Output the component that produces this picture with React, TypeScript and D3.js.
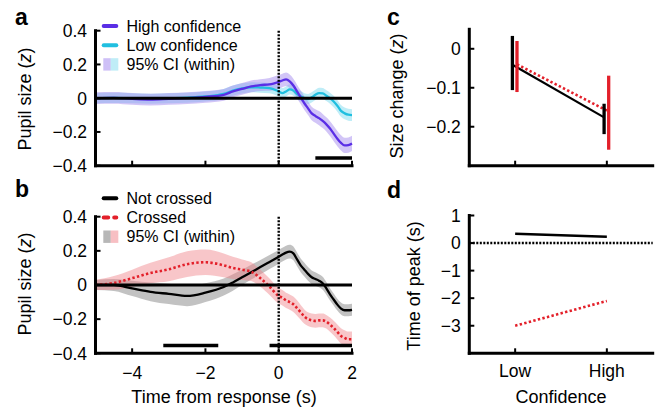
import { useEffect, useRef } from "react";
import * as d3 from "d3";

// time axis shared by panels a and b (s from response)
const times = [-5, -4.5, -4, -3.5, -3, -2.5, -2, -1.5, -1.25, -1, -0.75, -0.5, -0.25, 0, 0.1, 0.2, 0.3, 0.4, 0.5, 0.6, 0.7, 0.8, 0.9, 1, 1.1, 1.2, 1.3, 1.4, 1.5, 1.6, 1.7, 1.8, 1.9, 2];

// panel a
const highConf = [0, 0.002, -0.004, -0.008, -0.004, 0, 0.008, 0.02, 0.04, 0.055, 0.07, 0.078, 0.082, 0.097, 0.105, 0.112, 0.1, 0.075, 0.04, 0.005, -0.03, -0.06, -0.09, -0.105, -0.118, -0.135, -0.155, -0.18, -0.21, -0.24, -0.265, -0.28, -0.278, -0.268];
const lowConf = [0, 0.002, 0, -0.003, 0, 0.003, 0.01, 0.025, 0.045, 0.058, 0.065, 0.063, 0.06, 0.04, 0.03, 0.04, 0.052, 0.045, 0.025, 0.012, 0, -0.005, 0.005, 0.02, 0.03, 0.028, 0.015, 0, -0.02, -0.045, -0.075, -0.09, -0.098, -0.1];
const ciHigh = [0.035, 0.035, 0.035, 0.035, 0.035, 0.035, 0.035, 0.035, 0.035, 0.035, 0.035, 0.035, 0.038, 0.04, 0.04, 0.04, 0.04, 0.04, 0.04, 0.04, 0.04, 0.04, 0.04, 0.04, 0.042, 0.042, 0.042, 0.044, 0.045, 0.045, 0.045, 0.045, 0.045, 0.045];
const ciLow = [0.03, 0.03, 0.03, 0.03, 0.03, 0.03, 0.03, 0.03, 0.03, 0.03, 0.03, 0.03, 0.03, 0.03, 0.03, 0.03, 0.03, 0.03, 0.03, 0.03, 0.03, 0.03, 0.03, 0.03, 0.032, 0.032, 0.032, 0.033, 0.034, 0.035, 0.035, 0.035, 0.035, 0.035];
const sigA = [[1.0, 2.0]];

// panel b
const notCrossed = [0, 0, -0.02, -0.04, -0.052, -0.064, -0.045, -0.012, 0.015, 0.045, 0.075, 0.105, 0.135, 0.165, 0.178, 0.19, 0.195, 0.185, 0.15, 0.115, 0.09, 0.065, 0.045, 0.035, 0.025, 0.01, -0.02, -0.055, -0.085, -0.115, -0.138, -0.148, -0.148, -0.145];
const crossed = [0, 0.012, 0.04, 0.07, 0.092, 0.122, 0.133, 0.115, 0.1, 0.09, 0.078, 0.04, -0.01, -0.064, -0.075, -0.09, -0.1, -0.113, -0.135, -0.16, -0.185, -0.2, -0.207, -0.21, -0.207, -0.207, -0.215, -0.232, -0.252, -0.275, -0.298, -0.31, -0.318, -0.318];
const ciNot = [0.03, 0.035, 0.045, 0.055, 0.06, 0.06, 0.055, 0.05, 0.048, 0.045, 0.043, 0.042, 0.041, 0.04, 0.04, 0.04, 0.04, 0.04, 0.04, 0.04, 0.04, 0.04, 0.04, 0.04, 0.038, 0.038, 0.037, 0.036, 0.035, 0.035, 0.035, 0.035, 0.035, 0.035];
const ciCrossed = [0.03, 0.04, 0.05, 0.06, 0.07, 0.075, 0.075, 0.07, 0.065, 0.06, 0.055, 0.05, 0.048, 0.046, 0.045, 0.045, 0.045, 0.045, 0.045, 0.043, 0.042, 0.04, 0.04, 0.04, 0.04, 0.04, 0.04, 0.042, 0.043, 0.044, 0.045, 0.045, 0.045, 0.045];
const sigB = [[-3.15, -1.65], [-0.25, 2.0]];

// panels c and d
const confidence = ["Low", "High"];
const sizeNotMean = [-0.041, -0.176];
const sizeNotLo = [-0.106, -0.219];
const sizeNotHi = [0.033, -0.141];
const sizeCrossMean = [-0.04, -0.161];
const sizeCrossLo = [-0.111, -0.259];
const sizeCrossHi = [0.02, -0.069];
const peakNot = [0.34, 0.23];
const peakCross = [-3.0, -2.1];

const FONT = "'Liberation Sans', Arial, Helvetica, sans-serif";
const RED = "#e3202a";
const PURPLE = "#5a2ee6";
const CYAN = "#20bfe0";
const DOTS = "2,1.5";

export default function App() {
  const svgRef = useRef<SVGSVGElement>(null);

  useEffect(() => {
    if (!svgRef.current) return;
    const svg = d3.select(svgRef.current);
    svg.selectAll("*").remove();
    svg.attr("font-family", FONT);

    const xT = d3.scaleLinear().domain([-5, 2]).range([95.5, 352]);
    const yA = d3.scaleLinear().domain([-0.4, 0.4]).range([165.7, 30.7]);
    const yB = d3.scaleLinear().domain([-0.4, 0.4]).range([353.3, 216.7]);
    const xC = d3.scaleLinear().domain([0.5, 2.5]).range([469.3, 652.7]);
    const yC = d3.scaleLinear().domain([-0.3, 0.05]).range([165.7, 29.3]);
    const yD = d3.scaleLinear().domain([-4, 1]).range([353.3, 215.5]);

    const fmt1 = (d: number) => (d === 0 ? "0" : d3.format(".1f")(d));
    const fmt0 = (d: number) => d3.format("d")(d);

    const drawAxes = (x: any, y: any, xTicks: number[], yTicks: number[], yFmt: any) => {
      const g = svg.append("g");
      const [x0, x1] = x.range();
      const [yb, yt] = y.range();
      g.append("line").attr("x1", x0).attr("x2", x0).attr("y1", yt).attr("y2", yb)
        .attr("stroke", "#000").attr("stroke-width", 3).attr("stroke-linecap", "square");
      g.append("line").attr("x1", x0).attr("x2", x1).attr("y1", yb).attr("y2", yb)
        .attr("stroke", "#000").attr("stroke-width", 3).attr("stroke-linecap", "square");
      g.selectAll(".yt").data(yTicks).enter().append("line")
        .attr("x1", x0).attr("x2", x0 + 5).attr("y1", d => y(d)).attr("y2", d => y(d))
        .attr("stroke", "#000").attr("stroke-width", 2);
      g.selectAll(".yl").data(yTicks).enter().append("text")
        .attr("x", x0 - 8.5).attr("y", d => y(d)).attr("dy", "0.36em")
        .attr("text-anchor", "end").attr("font-size", 17.5).text(d => yFmt(d));
      g.selectAll(".xt").data(xTicks).enter().append("line")
        .attr("x1", d => x(d)).attr("x2", d => x(d)).attr("y1", yb).attr("y2", yb - 5)
        .attr("stroke", "#000").attr("stroke-width", 2);
    };

    const yLabel = (x: number, y: number, pre: string, it: string | null, post: string) => {
      const t = svg.append("text").attr("transform", `translate(${x},${y}) rotate(-90)`)
        .attr("text-anchor", "middle").attr("font-size", 18);
      t.append("tspan").text(pre);
      if (it) t.append("tspan").attr("font-style", "italic").text(it);
      t.append("tspan").text(post);
    };

    const panelLabel = (x: number, y: number, s: string) =>
      svg.append("text").attr("x", x).attr("y", y).attr("font-size", 23).attr("font-weight", "bold").text(s);

    const idx = d3.range(times.length);
    const band = (y: any, m: number[], ci: number[]) => d3.area<number>()
      .x(i => xT(times[i])).y0(i => y(m[i] - ci[i])).y1(i => y(m[i] + ci[i])).curve(d3.curveMonotoneX)(idx);
    const line = (y: any, m: number[]) => d3.line<number>()
      .x(i => xT(times[i])).y(i => y(m[i])).curve(d3.curveMonotoneX)(idx);

    // series are drawn in order; last one ends up on top
    const timePanel = (y: any, series: any[], sig: number[][]) => {
      series.forEach(s => svg.append("path").attr("d", band(y, s.m, s.ci)).attr("fill", s.band).attr("fill-opacity", s.op));
      series.forEach(s => svg.append("path").attr("d", line(y, s.m)).attr("fill", "none")
        .attr("stroke", s.color).attr("stroke-width", s.dash ? 2.6 : 2.3).attr("stroke-dasharray", s.dash || null));
      svg.append("line").attr("x1", xT(-5)).attr("x2", xT(2)).attr("y1", y(0)).attr("y2", y(0))
        .attr("stroke", "#000").attr("stroke-width", 3);
      svg.append("line").attr("x1", xT(0)).attr("x2", xT(0)).attr("y1", y(0.4)).attr("y2", y(-0.4))
        .attr("stroke", "#000").attr("stroke-width", 2.4).attr("stroke-dasharray", DOTS);
      sig.forEach(([a, b]) => svg.append("line").attr("x1", xT(a)).attr("x2", xT(b))
        .attr("y1", y(-0.355)).attr("y2", y(-0.355)).attr("stroke", "#000").attr("stroke-width", 3.5));
      drawAxes(xT, y, [-4, -2, 0, 2], [-0.4, -0.2, 0, 0.2, 0.4], fmt1);
    };

    const legend = (y0: number, items: any[]) => {
      items.forEach((it, i) => {
        const cy = y0 + i * 19.2;
        if (it.swatch) {
          svg.append("rect").attr("x", 103.3).attr("y", cy - 6.2).attr("width", 7.4).attr("height", 12.4)
            .attr("fill", it.swatch[0]).attr("fill-opacity", it.swatch[2]);
          svg.append("rect").attr("x", 110.7).attr("y", cy - 6.2).attr("width", 7.6).attr("height", 12.4)
            .attr("fill", it.swatch[1]).attr("fill-opacity", it.swatch[3]);
        } else {
          svg.append("line").attr("x1", 103.7).attr("x2", 116.3).attr("y1", cy).attr("y2", cy)
            .attr("stroke", it.color).attr("stroke-width", 4).attr("stroke-linecap", "round")
            .attr("stroke-dasharray", it.dash || null);
        }
        svg.append("text").attr("x", 126.5).attr("y", cy).attr("dy", "0.36em").attr("font-size", 16).text(it.label);
      });
    };

    // a
    timePanel(yA, [
      { m: lowConf, ci: ciLow, color: CYAN, band: "#7fdcef", op: 0.5 },
      { m: highConf, ci: ciHigh, color: PURPLE, band: "#a58cf0", op: 0.5 },
    ], sigA);
    legend(26, [
      { label: "High confidence", color: PURPLE },
      { label: "Low confidence", color: CYAN },
      { label: "95% CI (within)", swatch: ["#a58cf0", "#7fdcef", 0.55, 0.5] },
    ]);
    panelLabel(15, 25, "a");
    yLabel(31, 99, "Pupil size (", "z", ")");

    // b
    timePanel(yB, [
      { m: notCrossed, ci: ciNot, color: "#000", band: "#999999", op: 0.6 },
      { m: crossed, ci: ciCrossed, color: RED, band: "#f08088", op: 0.45, dash: "2.4,2.3" },
    ], sigB);
    legend(198.3, [
      { label: "Not crossed", color: "#000" },
      { label: "Crossed", color: RED, dash: "4.5,6" },
      { label: "95% CI (within)", swatch: ["#999999", "#f08088", 0.7, 0.5] },
    ]);
    svg.selectAll(".xl").data([-4, -2, 0, 2]).enter().append("text")
      .attr("x", d => xT(d)).attr("y", 378.5).attr("text-anchor", "middle").attr("font-size", 17.5)
      .text(d => fmt0(d));
    svg.append("text").attr("x", 224).attr("y", 403).attr("text-anchor", "middle").attr("font-size", 18)
      .text("Time from response (s)");
    panelLabel(15, 196.7, "b");
    yLabel(31, 284, "Pupil size (", "z", ")");

    // c
    const cat = confidence.map((_, i) => i + 1);
    const offNot = -0.03;
    const offCross = 0.02;
    svg.append("path").attr("d", d3.line<number>().x(i => xC(cat[i] + offNot)).y(i => yC(sizeNotMean[i]))([0, 1]))
      .attr("stroke", "#000").attr("stroke-width", 2.2).attr("fill", "none");
    svg.append("path").attr("d", d3.line<number>().x(i => xC(cat[i] + offCross)).y(i => yC(sizeCrossMean[i]))([0, 1]))
      .attr("stroke", RED).attr("stroke-width", 2.6).attr("stroke-dasharray", "2.4,2.3").attr("fill", "none");
    cat.forEach((c, i) => {
      svg.append("line").attr("x1", xC(c + offNot)).attr("x2", xC(c + offNot))
        .attr("y1", yC(sizeNotLo[i])).attr("y2", yC(sizeNotHi[i])).attr("stroke", "#000").attr("stroke-width", 3.3);
      svg.append("line").attr("x1", xC(c + offCross)).attr("x2", xC(c + offCross))
        .attr("y1", yC(sizeCrossLo[i])).attr("y2", yC(sizeCrossHi[i])).attr("stroke", RED).attr("stroke-width", 3.3);
    });
    drawAxes(xC, yC, cat, [-0.2, -0.1, 0], fmt1);
    panelLabel(387, 25, "c");
    yLabel(402.5, 96, "Size change (", "z", ")");

    // d
    svg.append("line").attr("x1", xC(0.5)).attr("x2", xC(2.5)).attr("y1", yD(0)).attr("y2", yD(0))
      .attr("stroke", "#000").attr("stroke-width", 2.4).attr("stroke-dasharray", DOTS);
    svg.append("path").attr("d", d3.line<number>().x(i => xC(cat[i])).y(i => yD(peakNot[i]))([0, 1]))
      .attr("stroke", "#000").attr("stroke-width", 2.6).attr("fill", "none");
    svg.append("path").attr("d", d3.line<number>().x(i => xC(cat[i])).y(i => yD(peakCross[i]))([0, 1]))
      .attr("stroke", RED).attr("stroke-width", 2.6).attr("stroke-dasharray", "2.4,2.3").attr("fill", "none");
    drawAxes(xC, yD, cat, [-3, -2, -1, 0, 1], fmt0);
    svg.selectAll(".cl").data(confidence).enter().append("text")
      .attr("x", (_, i) => xC(cat[i])).attr("y", 376.5).attr("text-anchor", "middle").attr("font-size", 17.5)
      .text(d => d);
    svg.append("text").attr("x", 561).attr("y", 403).attr("text-anchor", "middle").attr("font-size", 18).text("Confidence");
    panelLabel(387, 198, "d");
    yLabel(420, 286, "Time of peak (s)", null, "");
  }, []);

  return (
    <div style={{ position: "absolute", left: 0, top: 0 }}>
      <svg ref={svgRef} width={657} height={410} style={{ display: "block", background: "#fff" }} />
    </div>
  );
}
